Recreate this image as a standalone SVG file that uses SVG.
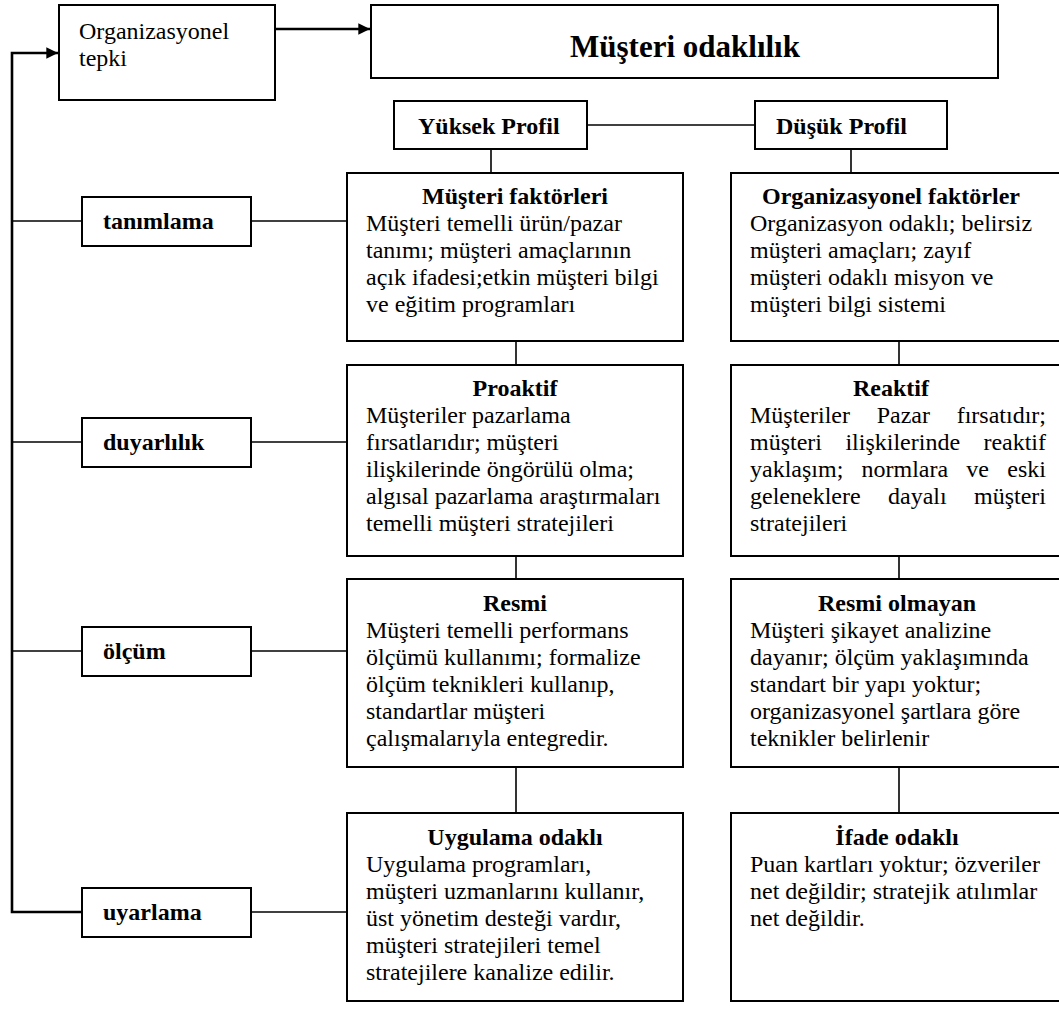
<svg xmlns="http://www.w3.org/2000/svg" width="1059" height="1015" viewBox="0 0 1059 1015">
<defs>
<marker id="arr2" viewBox="0 0 10 10" refX="10" refY="5" markerWidth="5.5" markerHeight="4.5" markerUnits="strokeWidth" orient="auto">
<path d="M0,0 L10,5 L0,10 z" fill="#000"/>
</marker>
</defs>
<style>
.bx{fill:#fff;stroke:#000;stroke-width:2}
text{font-family:"Liberation Serif","Times New Roman",serif;font-size:24px;fill:#000}
.b{font-weight:bold}
.c{text-anchor:middle}
.t{font-size:31px;font-weight:bold}
.ln{stroke:#000;stroke-width:1.6;fill:none}
.lk{stroke:#000;stroke-width:2.6;fill:none}
</style>
<rect x="0" y="0" width="1059" height="1015" style="fill:#fff;stroke:none"/>
<g id="connectors">
<line class="lk" x1="275" y1="29" x2="370" y2="29" marker-end="url(#arr2)"/>
<polyline class="lk" points="82,912 12,912 12,53 58,53" marker-end="url(#arr2)"/>
<line class="ln" x1="12" y1="221" x2="82" y2="221"/>
<line class="ln" x1="251" y1="221" x2="347" y2="221"/>
<line class="ln" x1="12" y1="442" x2="82" y2="442"/>
<line class="ln" x1="251" y1="442" x2="347" y2="442"/>
<line class="ln" x1="12" y1="651" x2="82" y2="651"/>
<line class="ln" x1="251" y1="651" x2="347" y2="651"/>
<line class="ln" x1="251" y1="912" x2="347" y2="912"/>
<line class="ln" x1="587" y1="125" x2="755" y2="125"/>
<line class="ln" x1="491" y1="149" x2="491" y2="173"/>
<line class="ln" x1="851" y1="149" x2="851" y2="173"/>
<line class="ln" x1="516" y1="341" x2="516" y2="365"/>
<line class="ln" x1="899" y1="341" x2="899" y2="365"/>
<line class="ln" x1="516" y1="556" x2="516" y2="579"/>
<line class="ln" x1="899" y1="556" x2="899" y2="579"/>
<line class="ln" x1="516" y1="767" x2="516" y2="813"/>
<line class="ln" x1="899" y1="767" x2="899" y2="813"/>
</g>
<g id="org-tepki">
<rect class="bx" x="59" y="5" width="216" height="95"/>
<text x="79" y="39">Organizasyonel</text>
<text x="79" y="66">tepki</text>
</g>
<g id="musteri-odaklilik">
<rect class="bx" x="371" y="5" width="627" height="73"/>
<text class="t c" x="685" y="57">Müşteri odaklılık</text>
</g>
<g id="yuksek-profil">
<rect class="bx" x="394" y="101" width="193" height="48"/>
<text class="b" x="418" y="134">Yüksek Profil</text>
</g>
<g id="dusuk-profil">
<rect class="bx" x="755" y="101" width="192" height="48"/>
<text class="b" x="776" y="134">Düşük Profil</text>
</g>
<g id="tanimlama">
<rect class="bx" x="82" y="197" width="169" height="49"/>
<text class="b" x="103" y="229">tanımlama</text>
</g>
<g id="duyarlilik">
<rect class="bx" x="82" y="418" width="169" height="49"/>
<text class="b" x="103" y="450">duyarlılık</text>
</g>
<g id="olcum">
<rect class="bx" x="82" y="627" width="169" height="49"/>
<text class="b" x="103" y="659">ölçüm</text>
</g>
<g id="uyarlama">
<rect class="bx" x="82" y="888" width="169" height="49"/>
<text class="b" x="103" y="920">uyarlama</text>
</g>
<g id="musteri-faktorleri">
<rect class="bx" x="347" y="173" width="336" height="168"/>
<text class="b c" x="515" y="204">Müşteri faktörleri</text>
<text x="366" y="231">Müşteri temelli ürün/pazar</text>
<text x="366" y="258">tanımı; müşteri amaçlarının</text>
<text x="366" y="285">açık ifadesi;etkin müşteri bilgi</text>
<text x="366" y="312">ve eğitim programları</text>
</g>
<g id="organizasyonel-faktorler">
<rect class="bx" x="731" y="173" width="340" height="168"/>
<text class="b c" x="891" y="204">Organizasyonel faktörler</text>
<text x="750" y="231">Organizasyon odaklı; belirsiz</text>
<text x="750" y="258">müşteri amaçları; zayıf</text>
<text x="750" y="285">müşteri odaklı misyon ve</text>
<text x="750" y="312">müşteri bilgi sistemi</text>
</g>
<g id="proaktif">
<rect class="bx" x="347" y="365" width="336" height="191"/>
<text class="b c" x="515" y="396">Proaktif</text>
<text x="366" y="423">Müşteriler pazarlama</text>
<text x="366" y="450">fırsatlarıdır; müşteri</text>
<text x="366" y="477">ilişkilerinde öngörülü olma;</text>
<text x="366" y="504">algısal pazarlama araştırmaları</text>
<text x="366" y="531">temelli müşteri stratejileri</text>
</g>
<g id="reaktif">
<rect class="bx" x="731" y="365" width="340" height="191"/>
<text class="b c" x="891" y="396">Reaktif</text>
<text y="423"><tspan x="750">Müşteriler</tspan><tspan x="876.7">Pazar</tspan><tspan x="956.7">fırsatıdır;</tspan></text>
<text y="450"><tspan x="750">müşteri</tspan><tspan x="845.4">ilişkilerinde</tspan><tspan x="983.4">reaktif</tspan></text>
<text y="477"><tspan x="750">yaklaşım;</tspan><tspan x="861.5">normlara</tspan><tspan x="966.3">ve</tspan><tspan x="1007.3">eski</tspan></text>
<text y="504"><tspan x="750">geleneklere</tspan><tspan x="888">dayalı</tspan><tspan x="974">müşteri</tspan></text>
<text x="750" y="531">stratejileri</text>
</g>
<g id="resmi">
<rect class="bx" x="347" y="579" width="336" height="188"/>
<text class="b c" x="515" y="611">Resmi</text>
<text x="366" y="638">Müşteri temelli performans</text>
<text x="366" y="665">ölçümü kullanımı; formalize</text>
<text x="366" y="692">ölçüm teknikleri kullanıp,</text>
<text x="366" y="719">standartlar müşteri</text>
<text x="366" y="746">çalışmalarıyla entegredir.</text>
</g>
<g id="resmi-olmayan">
<rect class="bx" x="731" y="579" width="340" height="188"/>
<text class="b c" x="897" y="611">Resmi olmayan</text>
<text x="750" y="638">Müşteri şikayet analizine</text>
<text x="750" y="665">dayanır; ölçüm yaklaşımında</text>
<text x="750" y="692">standart bir yapı yoktur;</text>
<text x="750" y="719">organizasyonel şartlara göre</text>
<text x="750" y="746">teknikler belirlenir</text>
</g>
<g id="uygulama-odakli">
<rect class="bx" x="347" y="813" width="336" height="188"/>
<text class="b c" x="515" y="845">Uygulama odaklı</text>
<text x="366" y="872">Uygulama programları,</text>
<text x="366" y="899">müşteri uzmanlarını kullanır,</text>
<text x="366" y="926">üst yönetim desteği vardır,</text>
<text x="366" y="953">müşteri stratejileri temel</text>
<text x="366" y="980">stratejilere kanalize edilir.</text>
</g>
<g id="ifade-odakli">
<rect class="bx" x="731" y="813" width="340" height="188"/>
<text class="b c" x="897" y="845">İfade odaklı</text>
<text x="750" y="872">Puan kartları yoktur; özveriler</text>
<text x="750" y="899">net değildir; stratejik atılımlar</text>
<text x="750" y="926">net değildir.</text>
</g>
</svg>
